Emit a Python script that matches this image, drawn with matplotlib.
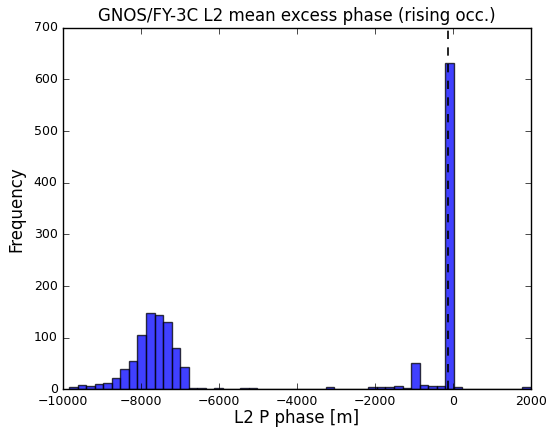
import numpy as np
import matplotlib
matplotlib.use("Agg")
import matplotlib.pyplot as plt
plt.style.use('classic')

counts = [4, 8, 7, 11, 13, 22, 40, 55, 106, 148, 145, 131, 80, 44, 3, 2, 0, 2, 1, 0,
          2, 2, 1, 1, 1, 1, 1, 1, 1, 0, 4, 1, 1, 1, 1, 5, 4, 4, 7, 2,
          51, 8, 6, 7, 632, 4, 1, 0, 1, 0, 1, 1, 1, 4]
xmin, xmax = -9850, 2000
mean_val = -130

edges = np.linspace(xmin, xmax, len(counts) + 1)
centers = (edges[:-1] + edges[1:]) / 2

fig, ax = plt.subplots(figsize=(5.5, 4.28), dpi=100)
ax.hist(centers, bins=edges, weights=counts, color='blue', alpha=0.75)
ax.axvline(mean_val, color='k', linestyle='--', linewidth=1.2)
ax.set_xlim(-10000, 2000)
ax.set_ylim(0, 700)
ax.set_title('GNOS/FY-3C L2 mean excess phase (rising occ.)', fontsize=12)
ax.set_xlabel('L2 P phase [m]', fontsize=12, labelpad=1)
ax.set_ylabel('Frequency', fontsize=12, labelpad=6)
ax.tick_params(labelsize=9)
fig.subplots_adjust(left=0.115, right=0.965, bottom=0.09, top=0.935)
fig.savefig('out.png')
